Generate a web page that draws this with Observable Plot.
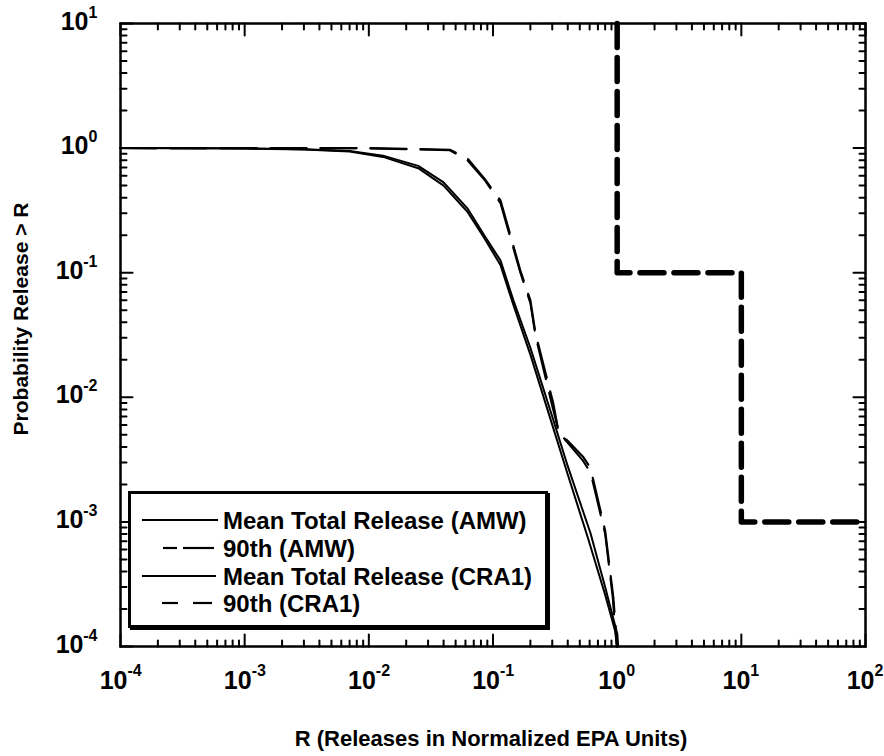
<!DOCTYPE html>
<html><head><meta charset="utf-8">
<script src="https://cdn.jsdelivr.net/npm/d3@7"></script>
<script src="https://cdn.jsdelivr.net/npm/@observablehq/plot@0.6"></script>
<style>
body{margin:0;background:#fff;}
#wrap{position:relative;width:884px;height:756px;font-family:"Liberation Sans",Arial,sans-serif;}
#wrap svg{display:block;}
</style></head><body><div id="wrap"></div>
<script>
// ---- data ----
const meanAMW_R = [1e-4, 1e-3, 3e-3, 7e-3, 0.013, 0.025, 0.04, 0.062, 0.085, 0.115, 0.146, 0.2, 0.29, 0.4, 0.61, 0.8, 1.0, 1.02];
const meanAMW_P = [1, 0.995, 0.98, 0.95, 0.87, 0.72, 0.53, 0.33, 0.2, 0.125, 0.06, 0.025, 0.0078, 0.0028, 8.1e-4, 3.0e-4, 1.27e-4, 1e-4];
const p90AMW_R = [1e-4, 0.01, 0.045, 0.062, 0.085, 0.115, 0.166, 0.2, 0.22, 0.306, 0.336, 0.36, 0.397, 0.535, 0.61, 0.8, 0.93, 1.0];
const p90AMW_P = [1, 1, 0.97, 0.83, 0.57, 0.38, 0.104, 0.06, 0.0325, 0.0089, 0.0054, 0.0048, 0.0045, 0.0033, 0.0027, 8.5e-4, 2.5e-4, 1e-4];
const meanCRA1_R = [1e-4, 1e-3, 3e-3, 7e-3, 0.013, 0.025, 0.04, 0.062, 0.085, 0.115, 0.146, 0.2, 0.28, 0.4, 0.58, 0.8, 0.97, 1.0];
const meanCRA1_P = [1, 0.993, 0.975, 0.94, 0.85, 0.69, 0.5, 0.31, 0.19, 0.115, 0.055, 0.022, 0.0075, 0.0024, 7.5e-4, 2.6e-4, 1.3e-4, 1e-4];
const p90CRA1_R = [1e-4, 0.01, 0.045, 0.062, 0.085, 0.115, 0.166, 0.2, 0.22, 0.3, 0.34, 0.4, 0.53, 0.61, 0.8, 0.92, 0.99];
const p90CRA1_P = [1, 0.995, 0.96, 0.8, 0.56, 0.36, 0.1, 0.057, 0.031, 0.0085, 0.0052, 0.0043, 0.0031, 0.0025, 8e-4, 2.5e-4, 1e-4];
const limit_R = [1, 1, 10, 10, 100];
const limit_P = [10, 0.1, 0.1, 0.001, 0.001];

const legendLabels = ["Mean Total Release (AMW)", "90th (AMW)", "Mean Total Release (CRA1)", "90th (CRA1)"];
const xTitle = "R (Releases in Normalized EPA Units)";
const yTitle = "Probability Release > R";

const xNeg = [1e-4, 1e-3, 1e-2, 1e-1], xNegExp = ["-4", "-3", "-2", "-1"];
const xPos = [1e0, 1e1, 1e2], xPosExp = ["0", "1", "2"];
const yNeg = [1e-4, 1e-3, 1e-2, 1e-1], yNegExp = ["-4", "-3", "-2", "-1"];
const yPos = [1e0, 1e1], yPosExp = ["0", "1"];

// tick positions
const xMajor = [...xNeg, ...xPos];
const yMajor = [...yNeg, ...yPos];
const minorOf = decs => decs.slice(0, -1).flatMap(d => [2,3,4,5,6,7,8,9].map(k => k * d));
const xMinor = minorOf(xMajor);
const yMinor = minorOf(yMajor);

const W = 884, H = 756, ML = 120, MR = 19, MT = 23, MB = 110;
const PW = W - ML - MR, PH = H - MT - MB;
const X0 = 1e-4, X1 = 1e2, Y0 = 1e-4, Y1 = 1e1;
const pxDecX = PW / Math.log10(X1 / X0), pxDecY = PH / Math.log10(Y1 / Y0);
const pts = (R, P) => R.map((r, i) => [r, P[i]]);
const FONT = '"Liberation Sans", Arial, sans-serif';

// inward ticks on all four sides (MATLAB style): short two-point segments in data space
let tickId = 0;
function tickSegs(list, axis, len) {
  const out = [];
  if (axis === "x") {
    const f = Math.pow(10, len / pxDecY);
    list.forEach(t => {
      const a = ++tickId, b = ++tickId;
      out.push({x: t, y: Y0, k: a}, {x: t, y: Y0 * f, k: a});
      out.push({x: t, y: Y1, k: b}, {x: t, y: Y1 / f, k: b});
    });
  } else {
    const f = Math.pow(10, len / pxDecX);
    list.forEach(t => {
      const a = ++tickId, b = ++tickId;
      out.push({y: t, x: X0, k: a}, {y: t, x: X0 * f, k: a});
      out.push({y: t, x: X1, k: b}, {y: t, x: X1 / f, k: b});
    });
  }
  return out;
}
const tickData = [
  ...tickSegs(xMajor, "x", 12), ...tickSegs(xMinor, "x", 6),
  ...tickSegs(yMajor, "y", 12), ...tickSegs(yMinor, "y", 6)
];
const lab = {fill: "black", fontFamily: FONT, fontWeight: "bold", lineAnchor: "middle"};

const chart = Plot.plot({
  width: W, height: H,
  marginLeft: ML, marginRight: MR, marginTop: MT, marginBottom: MB,
  style: {background: "white"},
  x: {type: "log", domain: [X0, X1], axis: null},
  y: {type: "log", domain: [Y0, Y1], axis: null},
  marks: [
    Plot.line(tickData, {x: "x", y: "y", z: "k", stroke: "black", strokeWidth: 2}),
    Plot.line(pts(meanAMW_R, meanAMW_P), {stroke: "black", strokeWidth: 2}),
    Plot.line(pts(meanCRA1_R, meanCRA1_P), {stroke: "black", strokeWidth: 2}),
    Plot.line(pts(p90CRA1_R, p90CRA1_P), {stroke: "black", strokeWidth: 2, strokeDasharray: "36,14"}),
    Plot.line(pts(p90AMW_R, p90AMW_P), {stroke: "black", strokeWidth: 2.2, strokeDasharray: "36,14"}),
    Plot.line(pts(limit_R, limit_P), {stroke: "black", strokeWidth: 5.5, strokeDasharray: "24,10"}),
    Plot.frame({stroke: "black", strokeWidth: 2.5}),
    // x tick labels
    Plot.text(xNeg, {...lab, x: d => d, frameAnchor: "bottom", text: () => "10", textAnchor: "end", dx: 7, dy: 34, fontSize: 25}),
    Plot.text(xNeg, {...lab, x: d => d, frameAnchor: "bottom", text: (d, i) => xNegExp[i], textAnchor: "start", dx: 7, dy: 24, fontSize: 16}),
    Plot.text(xPos, {...lab, x: d => d, frameAnchor: "bottom", text: () => "10", textAnchor: "end", dx: 9, dy: 34, fontSize: 25}),
    Plot.text(xPos, {...lab, x: d => d, frameAnchor: "bottom", text: (d, i) => xPosExp[i], textAnchor: "start", dx: 9, dy: 24, fontSize: 16}),
    // y tick labels
    Plot.text(yNeg, {...lab, y: d => d, frameAnchor: "left", text: () => "10", textAnchor: "end", dx: -37, dy: -2, fontSize: 25}),
    Plot.text(yNeg, {...lab, y: d => d, frameAnchor: "left", text: (d, i) => yNegExp[i], textAnchor: "end", dx: -23, dy: -11, fontSize: 16}),
    Plot.text(yPos, {...lab, y: d => d, frameAnchor: "left", text: () => "10", textAnchor: "end", dx: -32, dy: -2, fontSize: 25}),
    Plot.text(yPos, {...lab, y: d => d, frameAnchor: "left", text: (d, i) => yPosExp[i], textAnchor: "end", dx: -23, dy: -11, fontSize: 16}),
    // axis titles
    Plot.text([xTitle], {...lab, frameAnchor: "bottom", textAnchor: "middle", dy: 92, dx: -2, fontSize: 22}),
    Plot.text([yTitle], {...lab, frameAnchor: "left", textAnchor: "middle", rotate: -90, dx: -99, dy: -16, fontSize: 21})
  ]
});
const wrap = document.getElementById("wrap");
wrap.appendChild(chart);

// legend (inside plot area, lower left)
const NS = "http://www.w3.org/2000/svg";
const lg = document.createElementNS(NS, "svg");
lg.setAttribute("width", 422); lg.setAttribute("height", 139);
lg.style.position = "absolute"; lg.style.left = "128px"; lg.style.top = "491px";
const rowY = [29, 57, 85, 112];
const samples = [
  [[14, 90]],
  [[35, 49], [55, 86]],
  [[14, 88]],
  [[34, 50], [65, 84]]
];
let html = `<rect x="2" y="2" width="420" height="137" fill="black"/>
<rect x="1.5" y="1.5" width="417" height="134" fill="white" stroke="black" stroke-width="3"/>`;
legendLabels.forEach((t, i) => {
  samples[i].forEach(([a, b]) => {
    html += `<line x1="${a}" x2="${b}" y1="${rowY[i]}" y2="${rowY[i]}" stroke="black" stroke-width="2.2"/>`;
  });
  html += `<text x="95" y="${rowY[i]}" dy="0.36em" font-family='${FONT}' font-weight="bold" font-size="24" fill="black">${t}</text>`;
});
lg.innerHTML = html;
wrap.appendChild(lg);
</script></body></html>
